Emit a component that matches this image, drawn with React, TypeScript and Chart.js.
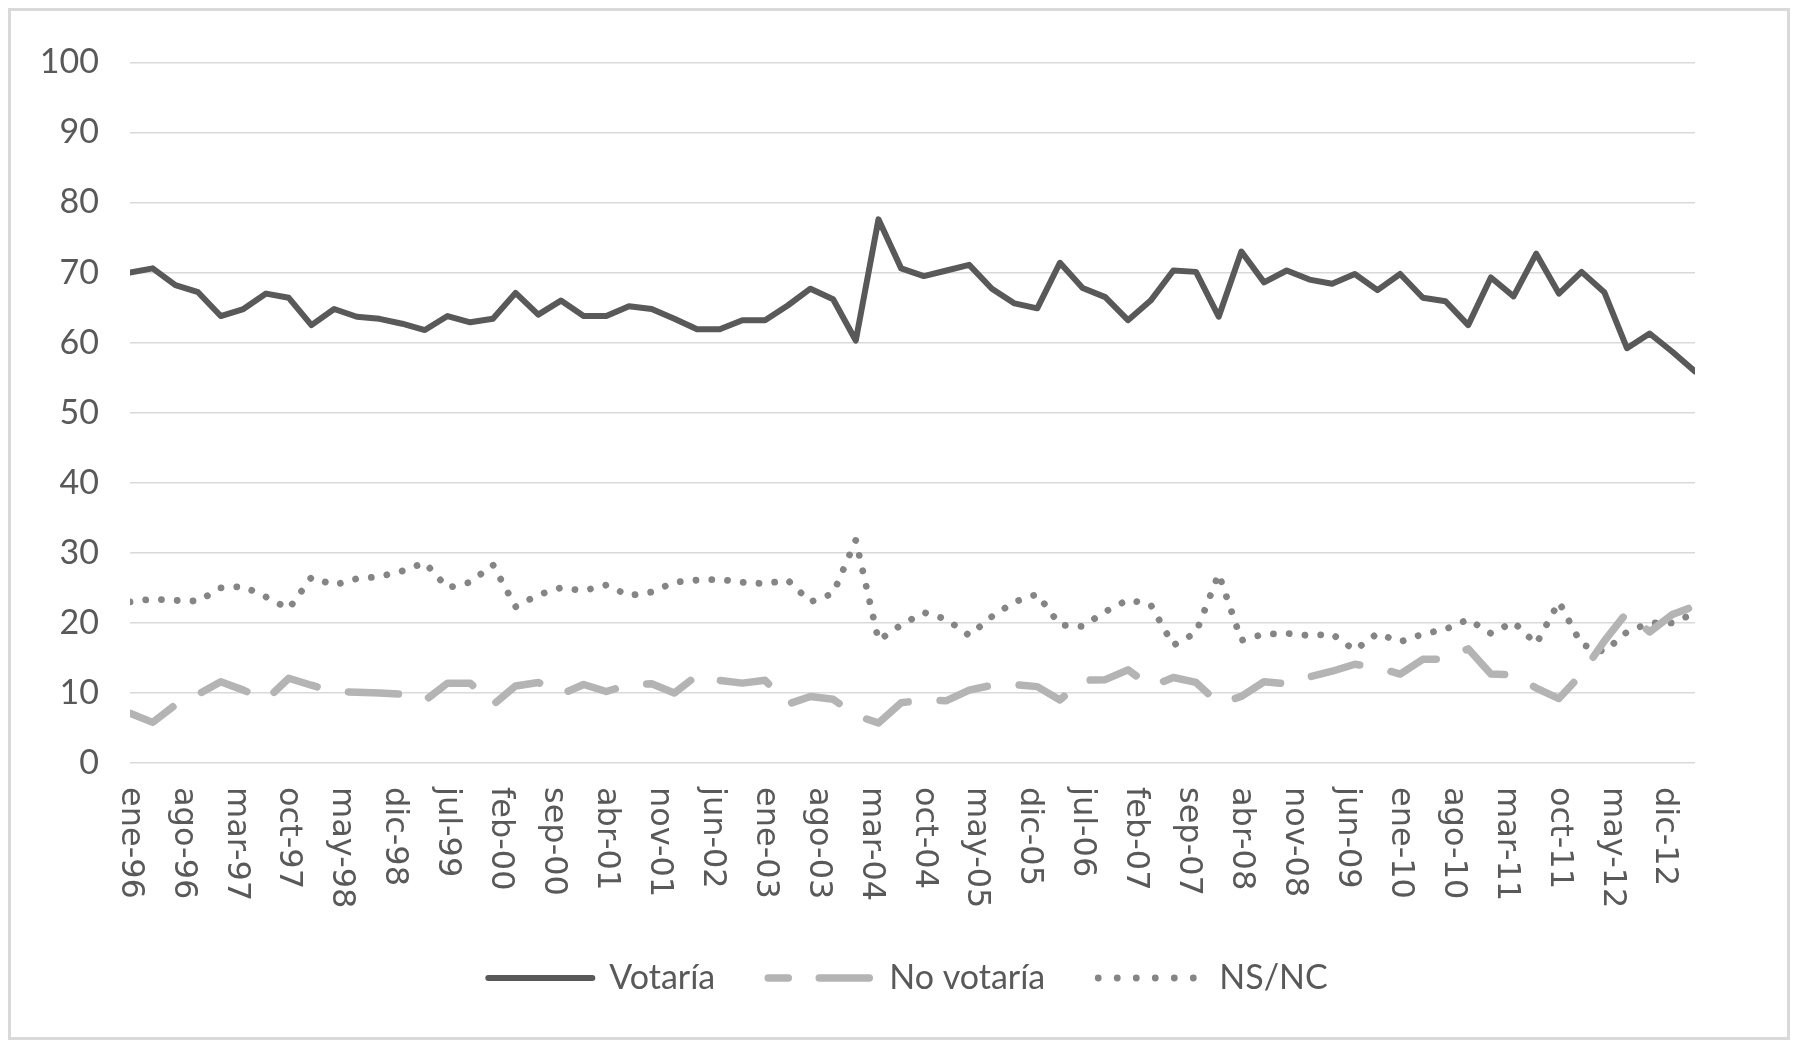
import React, { useEffect, useRef } from "react";
import { Chart, registerables } from "chart.js";

Chart.register(...registerables);

// Survey dates (quarterly)
const surveyDates = [
  "ene-96", "abr-96", "jul-96", "oct-96",
  "ene-97", "abr-97", "jul-97", "oct-97",
  "ene-98", "abr-98", "jul-98", "oct-98",
  "ene-99", "abr-99", "jul-99", "oct-99",
  "ene-00", "abr-00", "jul-00", "oct-00",
  "ene-01", "abr-01", "jul-01", "oct-01",
  "ene-02", "abr-02", "jul-02", "oct-02",
  "ene-03", "abr-03", "jul-03", "oct-03",
  "ene-04", "abr-04", "jul-04", "oct-04",
  "ene-05", "abr-05", "jul-05", "oct-05",
  "ene-06", "abr-06", "jul-06", "oct-06",
  "ene-07", "abr-07", "jul-07", "oct-07",
  "ene-08", "abr-08", "jul-08", "oct-08",
  "ene-09", "abr-09", "jul-09", "oct-09",
  "ene-10", "abr-10", "jul-10", "oct-10",
  "ene-11", "abr-11", "jul-11", "oct-11",
  "ene-12", "abr-12", "jul-12", "oct-12",
  "ene-13", "abr-13",
];

const votaria = [
  70.0, 70.6, 68.2, 67.2, 63.8, 64.8, 67.0, 66.4, 62.5, 64.8,
  63.7, 63.4, 62.7, 61.8, 63.8, 62.9, 63.4, 67.1, 64.0, 66.0,
  63.8, 63.8, 65.2, 64.8, 63.4, 61.9, 61.9, 63.2, 63.2, 65.3,
  67.7, 66.2, 60.3, 77.6, 70.6, 69.5, 70.3, 71.1, 67.7, 65.6,
  64.9, 71.4, 67.8, 66.5, 63.2, 66.0, 70.3, 70.1, 63.7, 73.0,
  68.6, 70.3, 69.0, 68.4, 69.8, 67.5, 69.8, 66.4, 65.9, 62.5,
  69.3, 66.6, 72.7, 67.0, 70.1, 67.2, 59.2, 61.3, 58.7, 55.9,
];

const noVotaria = [
  7.1, 5.8, 8.3, 9.8, 11.6, 10.4, 9.0, 12.1, 11.1, 10.2,
  10.1, 10.0, 9.8, 8.9, 11.4, 11.4, 8.3, 11.0, 11.5, 9.8,
  11.2, 10.2, 11.2, 11.3, 10.0, 12.5, 11.8, 11.4, 11.8, 8.4,
  9.5, 9.1, 6.8, 5.7, 8.6, 9.0, 8.9, 10.4, 11.1, 11.2,
  10.9, 9.0, 11.8, 11.9, 13.3, 10.9, 12.2, 11.5, 8.5, 9.5,
  11.6, 11.3, 12.3, 13.1, 14.1, 13.6, 12.7, 14.8, 14.8, 16.3,
  12.7, 12.6, 10.7, 9.2, 12.7, 17.4, 21.5, 18.7, 21.2, 22.4,
];

const nsnc = [
  23.0, 23.4, 23.2, 23.1, 25.0, 25.2, 23.7, 22.0, 26.5, 25.4,
  26.3, 26.6, 27.4, 28.6, 25.0, 25.8, 28.3, 22.3, 24.0, 25.0,
  24.6, 25.4, 23.9, 24.4, 25.8, 26.1, 26.2, 25.8, 25.6, 26.1,
  23.0, 24.2, 31.8, 17.5, 19.7, 21.5, 20.5, 18.2, 20.9, 23.0,
  24.1, 19.7, 19.5, 21.6, 23.3, 22.6, 16.8, 18.6, 27.0, 17.5,
  18.4, 18.5, 18.2, 18.4, 16.1, 18.5, 17.3, 18.4, 19.1, 20.5,
  18.5, 20.1, 17.0, 23.0, 16.9, 15.9, 18.7, 20.0, 20.0, 21.4,
];

const tickLabels = [
  "ene-96", "ago-96", "mar-97", "oct-97", "may-98", "dic-98", "jul-99",
  "feb-00", "sep-00", "abr-01", "nov-01", "jun-02", "ene-03", "ago-03",
  "mar-04", "oct-04", "may-05", "dic-05", "jul-06", "feb-07", "sep-07",
  "abr-08", "nov-08", "jun-09", "ene-10", "ago-10", "mar-11", "oct-11",
  "may-12", "dic-12",
];

const seriesNames = ["Votaría", "No votaría", "NS/NC"];

const monthNames = ["ene", "feb", "mar", "abr", "may", "jun", "jul", "ago", "sep", "oct", "nov", "dic"];

function absMonth(label: string): number {
  const [m, yy] = label.split("-");
  const y = parseInt(yy, 10);
  const year = y >= 50 ? 1900 + y : 2000 + y;
  return year * 12 + monthNames.indexOf(m);
}

const base = absMonth(surveyDates[0]);
const xOf = (label: string) => absMonth(label) - base;
const tickMonths = tickLabels.map(xOf);

const TEXT = "#595959";
const GRID = "#d9d9d9";
const COLORS = ["#595959", "#b4b4b4", "#858585"];
const WIDTHS = [6, 7.5, 6.8];
const DASHES: number[][] = [[], [50, 32], [0.01, 15.8]];
const LEGEND_DASHES: number[][] = [[], [50, 31], [0.01, 19]];
const LEGEND_SHIFT = 55;

const xLabelPlugin = {
  id: "xLabelsRot",
  afterDraw(chart: any) {
    const { ctx, chartArea, scales } = chart;
    const xs = scales.x;
    ctx.save();
    ctx.font = '32px "DejaVu Sans"';
    ctx.fillStyle = TEXT;
    ctx.textAlign = "left";
    ctx.textBaseline = "middle";
    tickLabels.forEach((lab, i) => {
      const px = xs.getPixelForValue(tickMonths[i]);
      ctx.save();
      ctx.translate(px, chartArea.bottom + 24);
      ctx.rotate(Math.PI / 2);
      ctx.fillText(lab, 0, 0);
      ctx.restore();
    });
    ctx.restore();
  },
};

const legendShiftPlugin = {
  id: "legendShift",
  afterLayout(chart: any) {
    const lg = chart.legend;
    if (lg) {
      lg.left += LEGEND_SHIFT;
      lg.right += LEGEND_SHIFT;
    }
  },
};

export default function App() {
  const ref = useRef<HTMLCanvasElement>(null);

  useEffect(() => {
    if (!ref.current) return;
    const mk = (arr: number[]) => arr.map((v, i) => ({ x: xOf(surveyDates[i]), y: v }));
    const series = [votaria, noVotaria, nsnc];
    const chart = new Chart(ref.current, {
      type: "line",
      data: {
        datasets: series.map((arr, i) => ({
          label: seriesNames[i],
          data: mk(arr),
          borderColor: COLORS[i],
          backgroundColor: COLORS[i],
          borderWidth: WIDTHS[i],
          borderDash: DASHES[i],
          borderCapStyle: "round",
          borderJoinStyle: "round",
          pointRadius: 0,
          tension: 0,
        })),
      },
      options: {
        responsive: false,
        maintainAspectRatio: false,
        animation: false,
        layout: { padding: { left: 0, right: 92, top: 39, bottom: 32 } },
        scales: {
          x: {
            type: "linear",
            min: 0,
            max: xOf(surveyDates[surveyDates.length - 1]),
            offset: false,
            grid: { display: false },
            border: { display: false },
            ticks: { display: false },
            afterBuildTicks: (scale: any) => {
              scale.ticks = tickMonths.map((v) => ({ value: v }));
            },
            afterFit: (scale: any) => {
              scale.height = 145;
            },
          },
          y: {
            min: 0,
            max: 100,
            grid: { color: GRID, lineWidth: 1.5, drawTicks: false },
            border: { display: false },
            ticks: {
              stepSize: 10,
              padding: 31,
              color: TEXT,
              font: { family: "Lato", size: 34 },
            },
            afterFit: (scale: any) => {
              scale.width = 119;
            },
          },
        },
        plugins: {
          tooltip: { enabled: false },
          legend: {
            position: "bottom",
            labels: {
              usePointStyle: true,
              pointStyle: "line",
              pointStyleWidth: 104,
              padding: 53,
              color: TEXT,
              font: { family: "Lato", size: 34 },
              generateLabels: (c: any) =>
                c.data.datasets.map((ds: any, i: number) => ({
                  text: ds.label,
                  fillStyle: COLORS[i],
                  strokeStyle: COLORS[i],
                  fontColor: TEXT,
                  lineWidth: WIDTHS[i],
                  lineDash: LEGEND_DASHES[i],
                  lineDashOffset: i === 1 ? 30 : 0,
                  lineCap: "round",
                  lineJoin: "round",
                  pointStyle: "line",
                  hidden: false,
                  datasetIndex: i,
                })),
            },
          },
        },
      },
      plugins: [xLabelPlugin, legendShiftPlugin],
    } as any);
    return () => chart.destroy();
  }, []);

  return (
    <div
      style={{
        width: 1782,
        height: 1032,
        border: "3px solid #d9d9d9",
        boxSizing: "border-box",
        background: "#fff",
      }}
    >
      <canvas ref={ref} width={1776} height={1026} style={{ display: "block", width: 1776, height: 1026 }} />
    </div>
  );
}
